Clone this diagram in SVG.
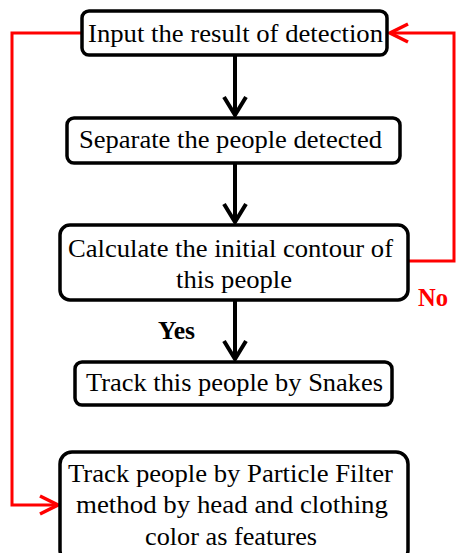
<svg xmlns="http://www.w3.org/2000/svg" width="456" height="553" viewBox="0 0 456 553">
  <defs>
    <style>
      .box { fill: #fff; stroke: #000; stroke-width: 3.5; }
      .t { font-family: 'Liberation Serif', 'DejaVu Serif', serif; font-size: 26px; fill: #000; text-anchor: middle; }
      .lbl { font-family: 'Liberation Serif', 'DejaVu Serif', serif; font-size: 26px; font-weight: bold; }
      .blk { stroke: #000; stroke-width: 4; fill: none; }
      .red { stroke: #ff0000; stroke-width: 3; fill: none; }
    </style>
    <marker id="ab" markerUnits="userSpaceOnUse" viewBox="0 0 24 26" refX="21" refY="13" markerWidth="24" markerHeight="26" orient="auto">
      <path d="M3,2 L21,13 L3,24" fill="none" stroke="#000" stroke-width="4"/>
    </marker>
    <marker id="ar" markerUnits="userSpaceOnUse" viewBox="0 0 24 22" refX="21" refY="11" markerWidth="24" markerHeight="22" orient="auto">
      <path d="M3,2 L21,11 L3,20" fill="none" stroke="#ff0000" stroke-width="3.5"/>
    </marker>
  </defs>

  <g id="connectors">
    <line class="blk" x1="235" y1="56" x2="235" y2="115" marker-end="url(#ab)"/>
    <line class="blk" x1="235" y1="163" x2="235" y2="222" marker-end="url(#ab)"/>
    <line class="blk" x1="235" y1="300" x2="235" y2="359" marker-end="url(#ab)"/>
    <polyline class="red" points="408,261 454,261 454,33 390,33" marker-end="url(#ar)"/>
    <polyline class="red" points="82,33 12,33 12,505 58,505" marker-end="url(#ar)"/>
    <text class="lbl" x="176.5" y="339" text-anchor="middle" fill="#000" textLength="37" lengthAdjust="spacingAndGlyphs">Yes</text>
    <text class="lbl" x="433" y="306" text-anchor="middle" fill="#ff0000" textLength="30" lengthAdjust="spacingAndGlyphs">No</text>
  </g>

  <g id="n1">
    <rect class="box" x="82" y="11" width="305" height="44" rx="7"/>
    <text class="t" x="235.5" y="42" textLength="295" lengthAdjust="spacingAndGlyphs">Input the result of detection</text>
  </g>
  <g id="n2">
    <rect class="box" x="67" y="118" width="333" height="45" rx="7"/>
    <text class="t" x="230.5" y="148" textLength="303" lengthAdjust="spacingAndGlyphs">Separate the people detected</text>
  </g>
  <g id="n3">
    <rect class="box" x="60" y="225" width="348" height="75" rx="10"/>
    <text class="t" x="230.5" y="257" textLength="325" lengthAdjust="spacingAndGlyphs">Calculate the initial contour of</text>
    <text class="t" x="234" y="288" textLength="116" lengthAdjust="spacingAndGlyphs">this people</text>
  </g>
  <g id="n4">
    <rect class="box" x="75" y="362" width="317" height="43" rx="7"/>
    <text class="t" x="234.5" y="391" textLength="297" lengthAdjust="spacingAndGlyphs">Track this people by Snakes</text>
  </g>
  <g id="n5">
    <rect class="box" x="60" y="452" width="348" height="110" rx="12"/>
    <text class="t" x="230.5" y="482" textLength="325" lengthAdjust="spacingAndGlyphs">Track people by Particle Filter</text>
    <text class="t" x="232" y="513" textLength="312" lengthAdjust="spacingAndGlyphs">method by head and clothing</text>
    <text class="t" x="231" y="545" textLength="172" lengthAdjust="spacingAndGlyphs">color as features</text>
  </g>
</svg>
